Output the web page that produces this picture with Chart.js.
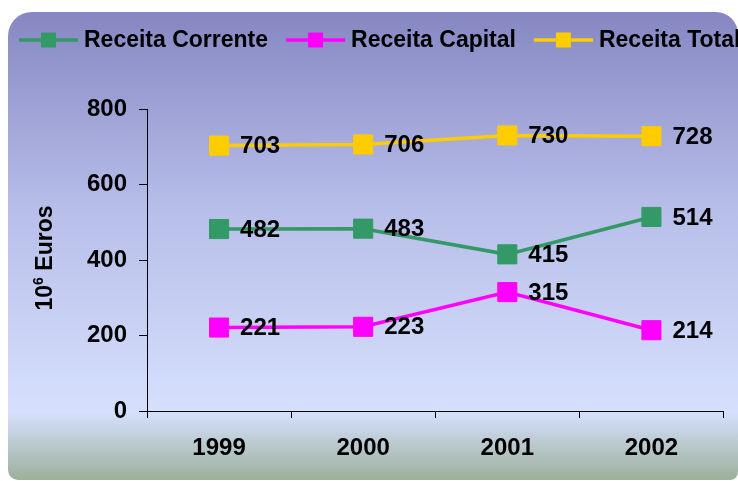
<!DOCTYPE html>
<html>
<head>
<meta charset="utf-8">
<script src="https://cdn.jsdelivr.net/npm/chart.js@4.4.1/dist/chart.umd.min.js"></script>
<style>
    html, body { margin: 0; padding: 0; background: #ffffff; overflow: hidden; }
    canvas { display: block; }
</style>
</head>
<body>
<canvas id="receitaChart" width="738" height="481"></canvas>
<script>
// Data
const years = ['1999', '2000', '2001', '2002'];
const receitaCorrente = [482, 483, 415, 514];
const receitaCapital = [221, 223, 315, 214];
const receitaTotal = [703, 706, 730, 728];
const yTicks = [0, 200, 400, 600, 800];

const FONT = "'Liberation Sans', Arial, sans-serif";

const seriesColors = {
    corrente: '#339966',
    capital: '#ff00ff',
    total: '#ffcc00'
};

// Rounded panel with gradient behind everything
const panelBackground = {
    id: 'panelBackground',
    beforeDraw(chart) {
        const ctx = chart.ctx;
        const x = 8, y = 12, w = 730, h = 468;
        const grad = ctx.createLinearGradient(0, y, 0, y + h);
        grad.addColorStop(0, '#8687c2');
        grad.addColorStop(0.42, '#b7bee9');
        grad.addColorStop(0.855, '#d6e0fd');
        grad.addColorStop(1, '#9cb09b');
        ctx.save();
        ctx.fillStyle = '#ffffff';
        ctx.fillRect(0, 0, chart.width, chart.height);
        ctx.beginPath();
        ctx.roundRect(x, y, w, h, [24, 22, 8, 10]);
        ctx.fillStyle = grad;
        ctx.fill();
        ctx.restore();
    }
};

// Legend drawn by hand: line with square marker, then label
const lineLegend = {
    id: 'lineLegend',
    afterDraw(chart) {
        const ctx = chart.ctx;
        let x = 19;
        const y = 40;
        ctx.save();
        ctx.font = 'bold 23px ' + FONT;
        ctx.textBaseline = 'middle';
        chart.data.datasets.forEach(ds => {
            ctx.strokeStyle = ds.borderColor;
            ctx.lineWidth = 3.5;
            ctx.beginPath();
            ctx.moveTo(x, y);
            ctx.lineTo(x + 59, y);
            ctx.stroke();
            ctx.fillStyle = ds.borderColor;
            ctx.fillRect(x + 22, y - 7.5, 15, 15);
            ctx.fillStyle = '#000000';
            ctx.fillText(ds.label, x + 65, y + 1);
            x += 65 + ctx.measureText(ds.label).width + 18;
        });
        ctx.restore();
    }
};

// Value labels to the right of each point
const valueLabels = {
    id: 'valueLabels',
    afterDatasetsDraw(chart) {
        const ctx = chart.ctx;
        ctx.save();
        ctx.font = 'bold 24px ' + FONT;
        ctx.fillStyle = '#000000';
        ctx.textBaseline = 'middle';
        chart.data.datasets.forEach((ds, i) => {
            chart.getDatasetMeta(i).data.forEach((pt, j) => {
                ctx.fillText(String(ds.data[j]), pt.x + 21, pt.y + 1);
            });
        });
        ctx.restore();
    }
};

// Rotated axis title with a superscript exponent
const axisTitle = {
    id: 'axisTitle',
    afterDraw(chart) {
        const ctx = chart.ctx;
        const cx = 44, cy = 258;
        ctx.save();
        ctx.translate(cx, cy);
        ctx.rotate(-Math.PI / 2);
        ctx.fillStyle = '#000000';
        ctx.textBaseline = 'alphabetic';
        const big = 'bold 23px ' + FONT;
        const small = 'bold 14px ' + FONT;
        ctx.font = big;
        const w1 = ctx.measureText('10').width;
        const w3 = ctx.measureText(' Euros').width;
        ctx.font = small;
        const w2 = ctx.measureText('6').width;
        let x = -(w1 + w2 + w3) / 2;
        const base = 8;
        ctx.font = big;
        ctx.fillText('10', x, base);
        x += w1;
        ctx.font = small;
        ctx.fillText('6', x, base - 9);
        x += w2;
        ctx.font = big;
        ctx.fillText(' Euros', x, base);
        ctx.restore();
    }
};

function makeDataset(label, data, color) {
    return {
        label: label,
        data: data,
        borderColor: color,
        backgroundColor: color,
        borderWidth: 3.5,
        pointStyle: 'rect',
        pointRadius: 13.5,
        pointHoverRadius: 13.5,
        pointBorderWidth: 1,
        pointBorderColor: color,
        pointBackgroundColor: color,
        tension: 0,
        fill: false
    };
}

const ctx = document.getElementById('receitaChart');
new Chart(ctx, {
    type: 'line',
    data: {
        labels: years,
        datasets: [
            makeDataset('Receita Corrente', receitaCorrente, seriesColors.corrente),
            makeDataset('Receita Capital', receitaCapital, seriesColors.capital),
            makeDataset('Receita Total', receitaTotal, seriesColors.total)
        ]
    },
    options: {
        responsive: false,
        animation: false,
        layout: {
            padding: { left: 85, top: 109, right: 13, bottom: 20 }
        },
        plugins: {
            legend: { display: false },
            tooltip: { enabled: false }
        },
        scales: {
            x: {
                offset: true,
                grid: {
                    display: true,
                    offset: true,
                    drawOnChartArea: false,
                    drawTicks: true,
                    tickLength: 7,
                    color: '#000000'
                },
                border: { display: true, color: '#000000', width: 1 },
                ticks: {
                    color: '#000000',
                    padding: 16,
                    font: { family: FONT, size: 24, weight: 'bold' }
                },
                afterFit: scale => { scale.height = 50; }
            },
            y: {
                min: yTicks[0],
                max: yTicks[yTicks.length - 1],
                afterBuildTicks: scale => {
                    scale.ticks = yTicks.map(v => ({ value: v }));
                },
                grid: {
                    display: true,
                    drawOnChartArea: false,
                    drawTicks: true,
                    tickLength: 8,
                    color: '#000000'
                },
                border: { display: true, color: '#000000', width: 1 },
                ticks: {
                    color: '#000000',
                    padding: 12,
                    font: { family: FONT, size: 24, weight: 'bold' }
                },
                afterFit: scale => { scale.width = 62; }
            }
        }
    },
    plugins: [panelBackground, valueLabels, lineLegend, axisTitle]
});
</script>
</body>
</html>
